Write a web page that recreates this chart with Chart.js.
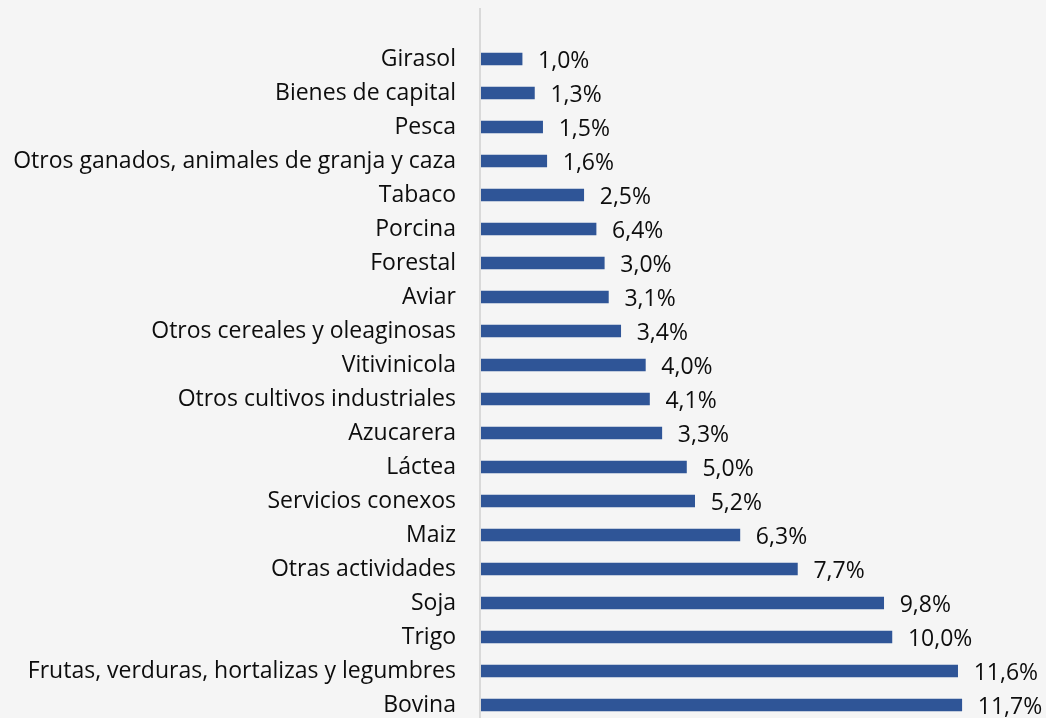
<!DOCTYPE html>
<html>
<head>
<meta charset="utf-8">
<script src="https://cdn.jsdelivr.net/npm/chart.js@4"></script>
<style>
  html, body { margin: 0; padding: 0; background: #f5f5f5; overflow: hidden; }
  #wrap { width: 1046px; height: 722px; }
</style>
</head>
<body>
<div id="wrap"><canvas id="c" width="1046" height="722"></canvas></div>
<script>
const categories = [
  "Girasol", "Bienes de capital", "Pesca", "Otros ganados, animales de granja y caza",
  "Tabaco", "Porcina", "Forestal", "Aviar", "Otros cereales y oleaginosas",
  "Vitivinicola", "Otros cultivos industriales", "Azucarera", "Láctea",
  "Servicios conexos", "Maiz", "Otras actividades", "Soja", "Trigo",
  "Frutas, verduras, hortalizas y legumbres", "Bovina"
];
// bar lengths as drawn in the picture (%)
const barValues = [1.0, 1.3, 1.5, 1.6, 2.5, 2.8, 3.0, 3.1, 3.4, 4.0, 4.1, 4.4, 5.0, 5.2, 6.3, 7.7, 9.8, 10.0, 11.6, 11.7];
// data labels as printed in the picture
const labelTexts = ["1,0%", "1,3%", "1,5%", "1,6%", "2,5%", "6,4%", "3,0%", "3,1%", "3,4%", "4,0%", "4,1%", "3,3%", "5,0%", "5,2%", "6,3%", "7,7%", "9,8%", "10,0%", "11,6%", "11,7%"];

const FONT = "'Open Sans', Lato, sans-serif";
const FSIZE = 23;

const axisLine = {
  id: 'axisLine',
  beforeDatasetsDraw(chart) {
    const ctx = chart.ctx, a = chart.chartArea;
    ctx.save();
    ctx.strokeStyle = '#d9d9d9';
    ctx.lineWidth = 2;
    ctx.beginPath();
    ctx.moveTo(a.left - 1, 8);
    ctx.lineTo(a.left - 1, chart.height);
    ctx.stroke();
    ctx.restore();
  }
};

const dataLabels = {
  id: 'dataLabels',
  afterDatasetsDraw(chart) {
    const ctx = chart.ctx;
    const meta = chart.getDatasetMeta(0);
    ctx.save();
    ctx.font = FSIZE + 'px ' + FONT;
    ctx.fillStyle = '#0d0d0d';
    ctx.textBaseline = 'middle';
    ctx.textAlign = 'left';
    meta.data.forEach((bar, i) => {
      const t = labelTexts[i];
      const w = ctx.measureText(t).width;
      let x = bar.x + 16;
      if (x + w > chart.width - 1) x = chart.width - 1 - w;
      ctx.fillText(t, x, bar.y + 2);
    });
    ctx.restore();
  }
};

new Chart(document.getElementById('c'), {
  type: 'bar',
  data: {
    labels: categories,
    datasets: [{
      data: barValues,
      backgroundColor: '#2f5597',
      borderWidth: 0,
      barThickness: 12
    }]
  },
  options: {
    indexAxis: 'y',
    responsive: false,
    animation: false,
    devicePixelRatio: 1,
    layout: { padding: { top: 42, bottom: 0, left: 0, right: 0 } },
    plugins: { legend: { display: false }, tooltip: { enabled: false } },
    scales: {
      x: {
        min: 0, max: 13.75,
        display: false,
        grid: { display: false }
      },
      y: {
        afterFit(s) { s.width = 481; s.paddingTop = 0; s.paddingBottom = 0; },
        grid: { display: false, drawTicks: false },
        border: { display: false },
        ticks: {
          padding: 25,
          color: '#0d0d0d',
          font: { family: FONT, size: FSIZE },
          autoSkip: false
        }
      }
    }
  },
  plugins: [axisLine, dataLabels]
});
</script>
</body>
</html>
